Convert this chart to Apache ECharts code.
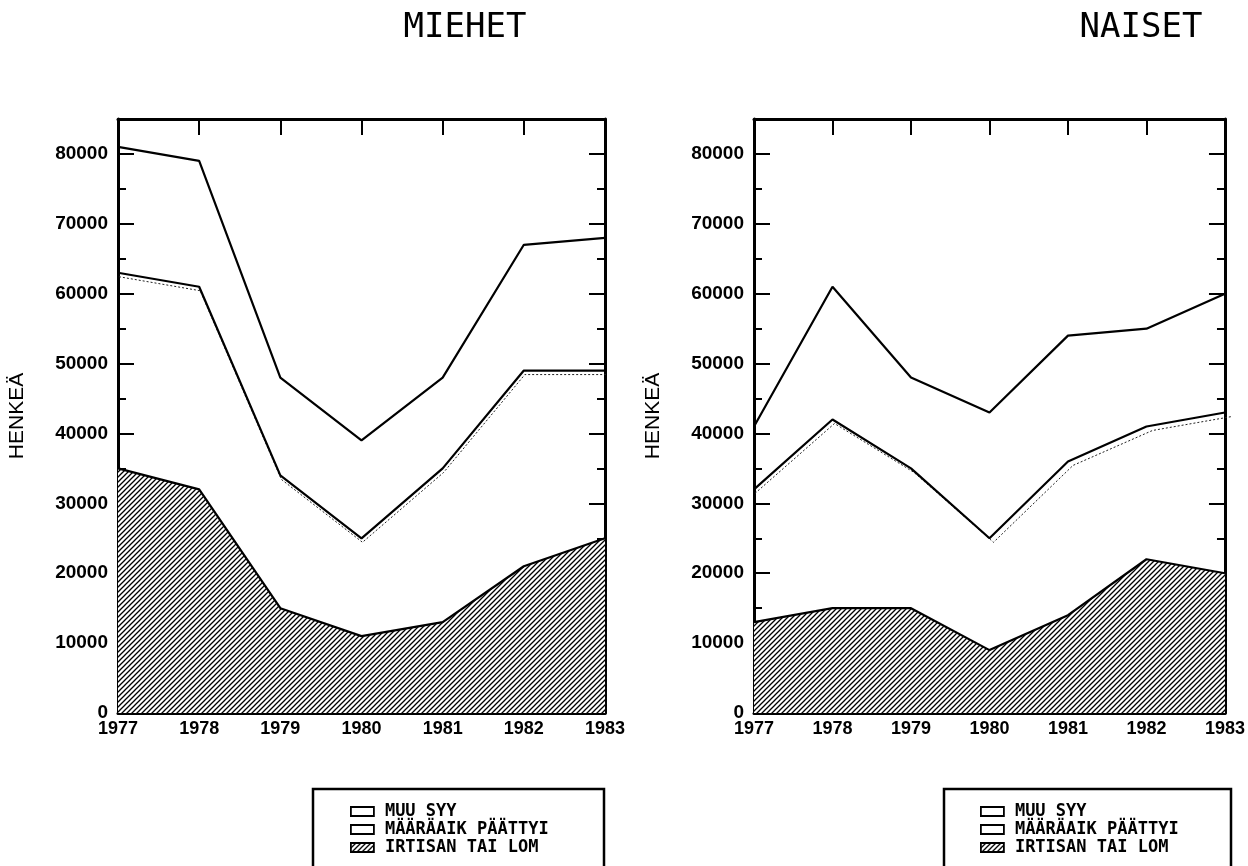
<!DOCTYPE html>
<html>
<head>
<meta charset="utf-8">
<script src="https://cdn.jsdelivr.net/npm/echarts@6/dist/echarts.min.js"></script>
<style>
html,body{margin:0;padding:0;background:#fff;}
#chart{width:1248px;height:866px;}
</style>
</head>
<body>
<div id="chart"></div>
<script>
// ---- data ----
const years = ['1977', '1978', '1979', '1980', '1981', '1982', '1983'];
const seriesNames = ['MUU SYY', 'MÄÄRÄAIK PÄÄTTYI', 'IRTISAN TAI LOM'];
const panelTitles = ['MIEHET', 'NAISET'];
const axisName = 'HENKEÄ';
// MIEHET (men)
const miehetIrtisan  = [35000, 32000, 15000, 11000, 13000, 21000, 25000];
const miehetMaaraaik = [28000, 29000, 19000, 14000, 22000, 28000, 24000];
const miehetMuu      = [18000, 18000, 14000, 14000, 13000, 18000, 19000];
// NAISET (women)
const naisetIrtisan  = [13000, 15000, 15000,  9000, 14000, 22000, 20000];
const naisetMaaraaik = [19000, 27000, 20000, 16000, 22000, 19000, 23000];
const naisetMuu      = [ 9000, 19000, 13000, 18000, 18000, 14000, 17000];

// ---- hatch pattern ----
function makeHatch() {
  const s = 5;
  const c = document.createElement('canvas');
  c.width = s; c.height = s;
  const ctx = c.getContext('2d');
  ctx.fillStyle = '#fff';
  ctx.fillRect(0, 0, s, s);
  ctx.strokeStyle = '#000';
  ctx.lineWidth = 1.3;
  ctx.beginPath();
  ctx.moveTo(0, s); ctx.lineTo(s, 0);
  ctx.moveTo(-1, 1); ctx.lineTo(1, -1);
  ctx.moveTo(s - 1, s + 1); ctx.lineTo(s + 1, s - 1);
  ctx.stroke();
  return c;
}
const hatch = { image: makeHatch(), repeat: 'repeat' };

const chart = echarts.init(document.getElementById('chart'), null, { renderer: 'canvas' });

const FONT = 'Liberation Sans';
const grids = [
  { left: 118, right: 643, top: 119, bottom: 153 },
  { left: 754, right: 17, top: 119, bottom: 153 },
  // shifted copies used for the thin dotted inner border of MÄÄRÄAIK
  { left: 119, right: 642, top: 123, bottom: 149 },
  { left: 755, right: 16, top: 123, bottom: 149 }
];

const xAxes = [], yAxes = [];
function addAxes(gi, visible) {
  const axisLine = { show: visible, onZero: false, lineStyle: { color: '#000', width: 3 } };
  const tick = { show: visible, inside: true, length: 16, lineStyle: { color: '#000', width: 2 } };
  xAxes.push({
    type: 'category', gridIndex: gi, data: years, boundaryGap: false, position: 'bottom',
    show: visible,
    axisLine: axisLine,
    axisTick: tick,
    axisLabel: { show: visible, color: '#000', fontFamily: FONT, fontWeight: 'bold', fontSize: 18, margin: 7 },
    splitLine: { show: false }
  });
  xAxes.push({
    type: 'category', gridIndex: gi, data: years, boundaryGap: false, position: 'top',
    show: visible,
    axisLine: axisLine,
    axisTick: tick,
    axisLabel: { show: false },
    splitLine: { show: false }
  });
  const yBase = {
    type: 'value', gridIndex: gi, min: 0, max: 85000, interval: 10000,
    show: visible,
    axisLine: axisLine,
    axisTick: tick,
    minorTick: { show: visible, splitNumber: 2, length: 8, lineStyle: { color: '#000', width: 2 } },
    splitLine: { show: false },
    minorSplitLine: { show: false }
  };
  yAxes.push(Object.assign({}, yBase, {
    position: 'left',
    name: visible ? axisName : '', nameLocation: 'middle', nameGap: 90, nameRotate: 90,
    nameTextStyle: { color: '#000', fontFamily: FONT, fontSize: 21 },
    axisLabel: {
      show: visible, color: '#000', fontFamily: FONT, fontWeight: 'bold', fontSize: 19, margin: 10,
      formatter: v => (v % 10000 === 0 ? String(v) : '')
    }
  }));
  yAxes.push(Object.assign({}, yBase, { position: 'right', axisLabel: { show: false } }));
}
addAxes(0, true);
addAxes(1, true);
addAxes(2, false);
addAxes(3, false);

const lineStyle = { color: '#000', width: 2.2 };
function panelSeries(gi, irtisan, maaraaik, muu) {
  const stack = 'S' + gi;
  const cum = irtisan.map((v, i) => v + maaraaik[i]);
  return [
    {
      name: seriesNames[2], type: 'line', stack: stack,
      xAxisIndex: gi * 2, yAxisIndex: gi * 2,
      data: irtisan, symbol: 'none', lineStyle: lineStyle,
      itemStyle: { color: '#000' },
      areaStyle: { color: hatch, opacity: 1 }, z: 2, silent: true
    },
    {
      name: seriesNames[1], type: 'line', stack: stack,
      xAxisIndex: gi * 2, yAxisIndex: gi * 2,
      data: maaraaik, symbol: 'none', lineStyle: lineStyle,
      itemStyle: { color: '#000' }, z: 3, silent: true
    },
    {
      name: seriesNames[0], type: 'line', stack: stack,
      xAxisIndex: gi * 2, yAxisIndex: gi * 2,
      data: muu, symbol: 'none', lineStyle: lineStyle,
      itemStyle: { color: '#000' }, z: 3, silent: true
    },
    {
      // thin dotted inner border just below the MÄÄRÄAIK boundary
      name: seriesNames[1], type: 'line',
      xAxisIndex: (gi + 2) * 2, yAxisIndex: (gi + 2) * 2,
      data: cum, symbol: 'none',
      lineStyle: { color: '#222', width: 1, type: [2, 2] }, z: 1, silent: true
    }
  ];
}

const legendItems = [
  { name: seriesNames[0], itemStyle: { color: '#fff', borderColor: '#000', borderWidth: 1.8 } },
  { name: seriesNames[1], itemStyle: { color: '#fff', borderColor: '#000', borderWidth: 1.8 } },
  { name: seriesNames[2], itemStyle: { color: hatch, borderColor: '#000', borderWidth: 1.8 } }
];
function makeLegend(left) {
  return {
    left: left, top: 803, orient: 'vertical', icon: 'rect', padding: 0, height: 80,
    itemWidth: 23, itemHeight: 9, itemGap: 1, selectedMode: false,
    data: legendItems,
    textStyle: { color: '#000', fontFamily: 'DejaVu Sans Mono', fontWeight: 'bold', fontSize: 17, lineHeight: 11, padding: [0, 0, 0, 6] }
  };
}

const option = {
  backgroundColor: '#fff',
  animation: false,
  grid: grids,
  xAxis: xAxes,
  yAxis: yAxes,
  legend: [makeLegend(350), makeLegend(980)],
  graphic: [
    { type: 'text', x: 465, y: 28, style: { text: panelTitles[0], align: 'center', verticalAlign: 'middle', font: '34px "DejaVu Sans Mono"', fill: '#000' } },
    { type: 'text', x: 1141, y: 28, style: { text: panelTitles[1], align: 'center', verticalAlign: 'middle', font: '34px "DejaVu Sans Mono"', fill: '#000' } },
    { type: 'rect', shape: { x: 313, y: 789, width: 291, height: 120 }, style: { fill: 'none', stroke: '#000', lineWidth: 2.5 } },
    { type: 'rect', shape: { x: 944, y: 789, width: 287, height: 120 }, style: { fill: 'none', stroke: '#000', lineWidth: 2.5 } }
  ],
  series: [].concat(
    panelSeries(0, miehetIrtisan, miehetMaaraaik, miehetMuu),
    panelSeries(1, naisetIrtisan, naisetMaaraaik, naisetMuu)
  )
};
chart.setOption(option);
</script>
</body>
</html>
